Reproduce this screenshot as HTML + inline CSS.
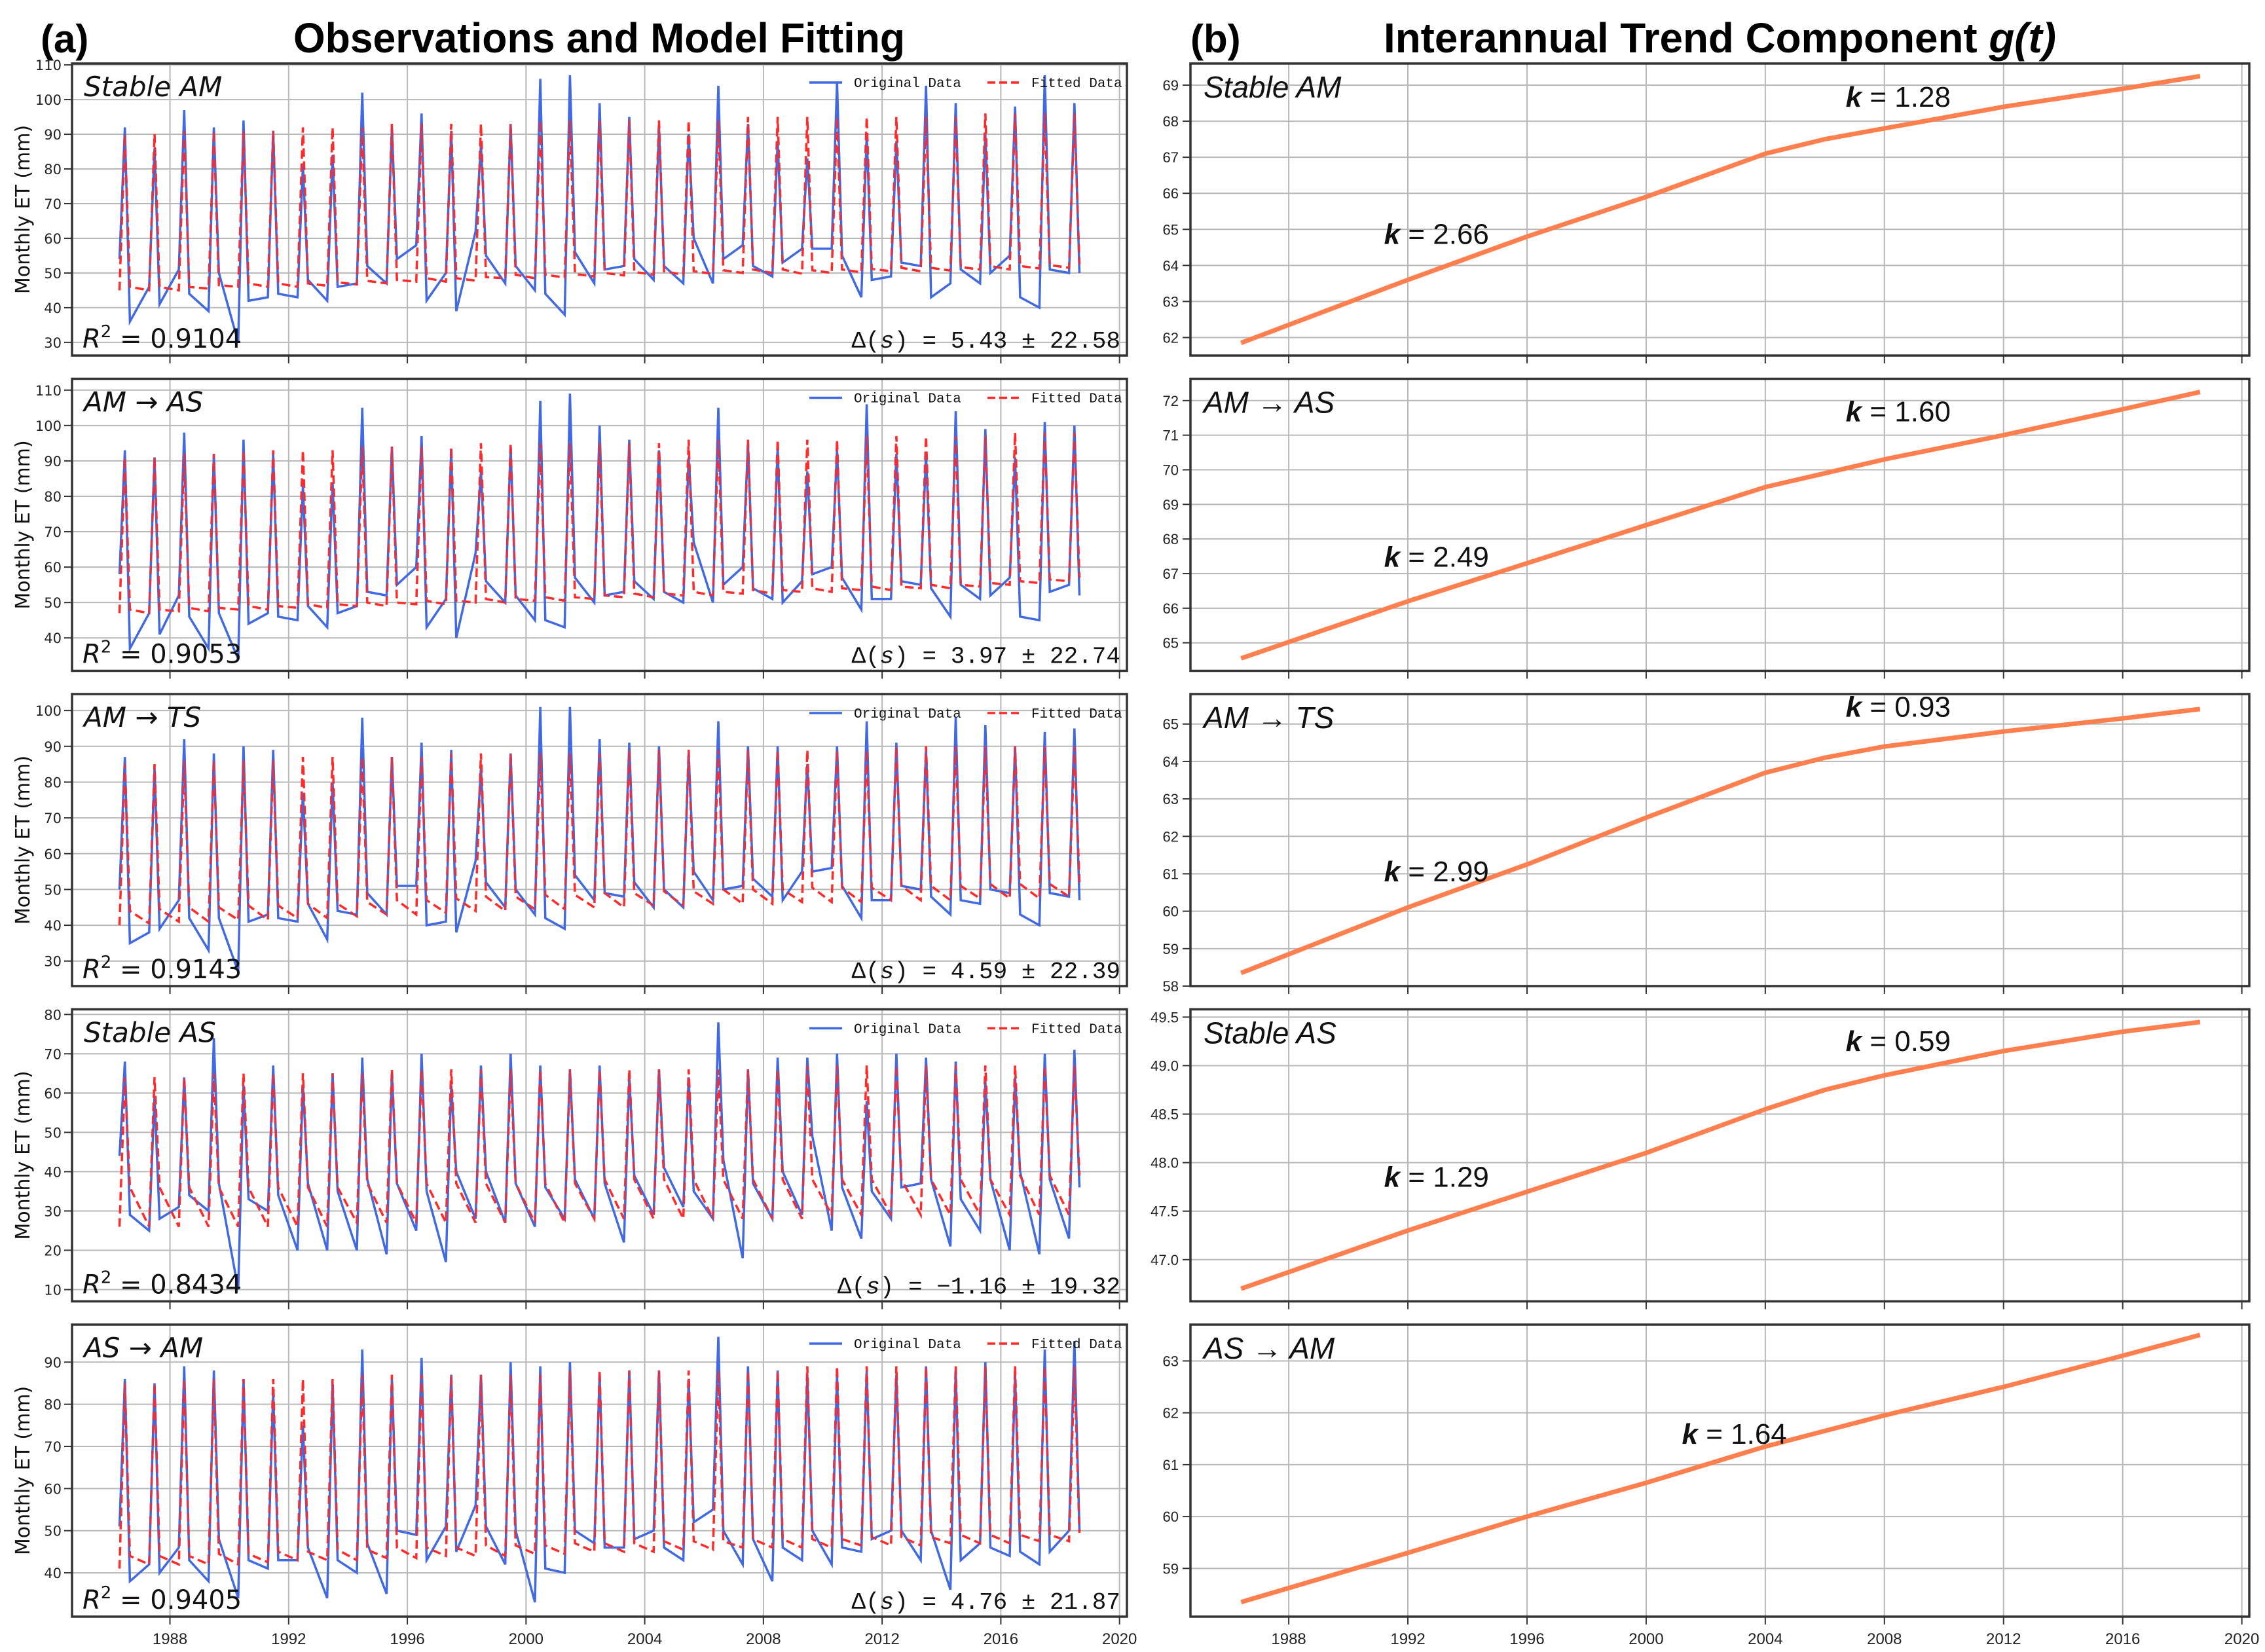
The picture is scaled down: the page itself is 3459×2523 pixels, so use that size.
<!DOCTYPE html>
<html><head><meta charset="utf-8"><style>
html,body{margin:0;padding:0;background:#fff;}
svg{display:block;}
</style></head><body>
<svg id="fig" xmlns="http://www.w3.org/2000/svg" width="3459" height="2523" viewBox="0 0 3459 2523">
<rect x="0" y="0" width="3459" height="2523" fill="#fff"/>
<text x="62" y="80" font-family="Liberation Sans, sans-serif" font-weight="bold" font-size="60">(a)</text>
<text x="448" y="80" textLength="934" lengthAdjust="spacingAndGlyphs" font-family="Liberation Sans, sans-serif" font-weight="bold" font-size="64">Observations and Model Fitting</text>
<text x="1818" y="80" font-family="Liberation Sans, sans-serif" font-weight="bold" font-size="60">(b)</text>
<text x="2113" y="80" textLength="1027" lengthAdjust="spacingAndGlyphs" font-family="Liberation Sans, sans-serif" font-weight="bold" font-size="64">Interannual Trend Component <tspan font-style="italic">g(t)</tspan></text>
<g id="plots"></g>
</svg>
<script>
// ---------- data ----------
const years = [1986,1987,1988,1989,1990,1991,1992,1993,1994,1995,1996,1997,1998,1999,2000,2001,2002,2003,2004,2005,2006,2007,2008,2009,2010,2011,2012,2013,2014,2015,2016,2017,2018];
const panelNames = ["Stable AM","AM \u2192 AS","AM \u2192 TS","Stable AS","AS \u2192 AM"];
const r2Labels = ["0.9104","0.9053","0.9143","0.8434","0.9405"];
const deltaLabels = ["5.43 \u00b1 22.58","3.97 \u00b1 22.74","4.59 \u00b1 22.39","\u22121.16 \u00b1 19.32","4.76 \u00b1 21.87"];

const p1BluePre  = [54,46,51,39,30,43,43,42,47,47,58,50,62,47,45,38,47,52,48,47,47,58,49,57,57,43,49,52,47,47,55,40,50];
const p1BluePeak = [92,86,97,92,94,91,81,84,102,92,96,91,87,93,106,107,99,95,92,90,104,93,88,83,105,90,88,104,99,90,98,107,99];
const p1BluePost = [36,41,44,50,42,44,48,46,52,54,42,39,55,52,44,56,51,54,52,60,54,52,53,57,55,48,53,43,51,50,43,51,50];
const p1RedPre   = [45,45,45,45.5,46,46,46,46.3,46.7,47,47.5,47.5,47.8,48.5,48.5,48.7,49,49.3,49.5,49.5,49.8,50,50,49.8,50,50.2,50.5,50.5,50.7,51,51,51.3,51.5];
const p1RedPeak  = [90,90,91,91,91,91,92,92,92,93,93,93,93,93,94,94,94,94,94,94,94,95,95,95,95,95,95,95,95,96,96,96,96];
const p1RedPost  = [46,46,46,46.5,47,47,47,47.3,47.7,48,48.5,48.5,48.8,49.5,49.5,49.7,50,50.3,50.5,50.5,50.8,51,51,50.8,51,51.2,51.5,51.5,51.7,52,52,52.3,52.5];

const p2BluePre  = [58,47,52,37,34,47,45,43,49,52,60,51,64,50,45,43,50,53,51,50,50,60,51,56,60,48,51,55,46,51,57,45,55];
const p2BluePeak = [93,91,98,92,96,92,83,84,105,94,97,93,87,94,107,109,100,96,93,91,105,95,94,87,93,106,92,92,104,99,91,101,100];
const p2BluePost = [37,41,46,47,44,46,49,47,53,55,43,40,56,52,45,57,52,56,53,67,55,54,50,58,57,51,56,54,55,52,46,53,52];
const p2RedPre   = [47,47,47.5,47.5,48,48,48.5,48.5,49,49,49.5,49.5,50,50,50.5,50.5,51,51.5,51.5,52,52,52.5,52.5,53,53,53.5,53.5,54,54,54.5,55,55.5,56];
const p2RedPeak  = [91,91,92,92,93,93,93,93,94,94,94,94,95,95,95,95,95,95,95,96,96,96,96,96,96,97,97,97,97,97,98,98,98];
const p2RedPost  = [48,48,48.5,48.5,49,49,49.5,49.5,50,50,50.5,50.5,51,51,51.5,51.5,52,52.5,52.5,53,53,53.5,53.5,54,54,54.5,54.5,55,55,55.5,56,56.5,57];

const p3BluePre  = [50,38,47,33,27,43,41,36,43,43,51,41,58,45,43,39,47,48,45,45,47,51,48,55,56,42,47,50,43,46,49,40,48];
const p3BluePeak = [87,84,92,88,90,89,77,80,98,87,91,89,84,88,101,101,92,91,90,88,97,90,90,85,90,97,91,89,98,96,90,94,95];
const p3BluePost = [35,39,42,42,41,42,46,44,49,51,40,38,52,50,42,54,49,52,50,55,50,53,47,55,51,47,51,48,47,50,43,49,47];
const p3RedPre   = [40,40.5,41,41,41.5,41.5,42,42,42.5,43,43,43.5,44,44,44.5,44.5,45,45,45.5,45.5,46,46,46,46.5,46.5,46.5,47,47,47,47.5,47.5,47.5,48];
const p3RedPeak  = [85,85,86,86,86,86,87,87,87,87,87,88,88,88,88,88,88,89,89,89,89,89,89,89,89,89,90,90,90,90,90,90,90];
const p3RedPost  = [44,44.5,45,45,45.5,45.5,46,46,46.5,47,47,47.5,48,48,48.5,48.5,49,49,49.5,49.5,50,50,50,50.5,50.5,50.5,51,51,51,51.5,51.5,51.5,52];

const p4BluePre  = [44,25,31,30,10,30,20,20,20,19,25,17,28,27,26,28,28,22,29,31,28,18,28,29,25,23,28,37,21,25,20,19,23];
const p4BluePeak = [68,59,64,74,62,67,62,65,69,65,70,62,67,70,67,66,67,64,66,64,78,66,69,69,70,58,70,69,68,63,64,70,71];
const p4BluePost = [29,28,34,37,33,34,37,35,38,37,35,40,40,37,36,38,37,39,41,35,43,37,40,49,36,35,36,38,33,38,40,38,36];
const p4RedPre   = [26,26,26,26,26,26,26,26,27,27,27,27,27,27,27,27,28,28,28,28,28,28,28,28,29,29,29,29,29,29,29,29,29];
const p4RedPeak  = [64,64,64,65,65,65,65,65,65,66,66,66,66,66,66,66,66,66,66,66,66,66,66,67,67,67,67,67,67,67,67,67,67];
const p4RedPost  = [36,36,36,36,36,36,36,36,37,37,37,37,37,37,37,37,38,38,38,38,38,38,38,38,38,38,38,38,38,38,39,39,39];

const p5BluePre  = [51,42,46,38,34,41,43,34,40,35,49,51,56,42,33,40,47,46,50,43,55,42,38,43,42,45,50,43,36,47,44,42,50];
const p5BluePeak = [86,85,89,88,86,83,75,85,93,86,91,87,87,90,89,90,87,88,88,86,96,89,88,87,87,88,87,89,88,90,87,93,95];
const p5BluePost = [38,40,43,48,43,43,46,43,47,50,43,45,51,50,41,50,46,48,46,52,50,48,46,50,46,48,50,50,43,46,45,45,50];
const p5RedPre   = [41,42,42,42,42,42.5,43,43,43,43.5,43.5,44,44,44,44.5,44.5,45,45,45,45.5,45.5,46,46,46,46,46.5,46.5,46.5,47,47,47,47.5,47.5];
const p5RedPeak  = [85,85,86,86,86,86,86,86,87,87,87,87,87,87,87,88,88,88,88,88,88,88,88,89,89,89,89,89,89,89,89,89,89];
const p5RedPost  = [44,44,44,44.5,44.5,45,45,45.5,45.5,46,46,46,46.5,46.5,46.5,47,47,47,47.5,47.5,47.5,48,48,48,48,48.5,48.5,48.5,49,49,49,49,49.5];

const bluePre  = [p1BluePre,p2BluePre,p3BluePre,p4BluePre,p5BluePre];
const bluePeak = [p1BluePeak,p2BluePeak,p3BluePeak,p4BluePeak,p5BluePeak];
const bluePost = [p1BluePost,p2BluePost,p3BluePost,p4BluePost,p5BluePost];
const redPre   = [p1RedPre,p2RedPre,p3RedPre,p4RedPre,p5RedPre];
const redPeak  = [p1RedPeak,p2RedPeak,p3RedPeak,p4RedPeak,p5RedPeak];
const redPost  = [p1RedPost,p2RedPost,p3RedPost,p4RedPost,p5RedPost];

const leftYMin = [26.2,30.7,23.0,7.0,29.6];
const leftYMax = [110.4,113.2,104.6,81.3,98.9];
const leftTicks = [[30,40,50,60,70,80,90,100,110],[40,50,60,70,80,90,100,110],[30,40,50,60,70,80,90,100],[10,20,30,40,50,60,70,80],[40,50,60,70,80,90]];

const trendYears = [1986.4,1992,1996,2000,2004,2006,2008,2012,2016,2018.6];
const trend1 = [61.85,63.6,64.8,65.9,67.1,67.5,67.8,68.4,68.9,69.25];
const trend2 = [64.55,66.2,67.3,68.4,69.5,69.9,70.3,71.0,71.75,72.25];
const trend3 = [58.35,60.1,61.25,62.5,63.7,64.1,64.4,64.8,65.15,65.4];
const trend4 = [46.7,47.3,47.7,48.1,48.55,48.75,48.9,49.15,49.35,49.45];
const trend5 = [58.35,59.3,60.0,60.65,61.35,61.65,61.95,62.5,63.1,63.5];
const trends = [trend1,trend2,trend3,trend4,trend5];
const rightYMin = [61.5,64.19,58.0,46.57,58.07];
const rightYMax = [69.6,72.63,65.8,49.58,63.7];
const rightTicks = [[62,63,64,65,66,67,68,69],[65,66,67,68,69,70,71,72],[58,59,60,61,62,63,64,65],[47.0,47.5,48.0,48.5,49.0,49.5],[59,60,61,62,63]];
const kLabels = [["2.66","1.28"],["2.49","1.60"],["2.99","0.93"],["1.29","0.59"],["1.64"]];
const kYears = [[1991.2,2006.7],[1991.2,2006.7],[1991.2,2006.7],[1991.2,2006.7],[2001.2]];
const kValues = [[64.6,68.4],[67.2,71.4],[60.8,65.2],[47.75,49.15],[61.4]];
const xTickYears = [1988,1992,1996,2000,2004,2008,2012,2016,2020];

// ---------- layout ----------
const NS = "http://www.w3.org/2000/svg";
const root = document.getElementById('plots');
const tops = [97,578.5,1060,1541.5,2023];
const PH = 446;
const L = {x0:110, x1:1721};
const R = {x0:1818, x1:3435};
function xs(year, side){ return side.x0 + (year-1984.7)*(side.x1-side.x0)/35.55; }
function ysc(v, top, mn, mx){ return top + PH - (v-mn)/(mx-mn)*PH; }
function mk(tag, attrs, parent){ const e=document.createElementNS(NS,tag); for(const k in attrs) e.setAttribute(k,attrs[k]); (parent||root).appendChild(e); return e; }

for(let p=0;p<5;p++){
  const top = tops[p];
  // ----- LEFT -----
  const gL = mk('g',{});
  
  
  const yL = v=>ysc(v,top,leftYMin[p],leftYMax[p]);
  xTickYears.forEach(yr=>{
    const x=xs(yr,L);
    const gl=mk('line',{x1:x,x2:x,y1:top,y2:top+PH,stroke:'#b8b8b8','stroke-width':2},gL);
    
    
    mk('line',{x1:x,x2:x,y1:top+PH,y2:top+PH+12,stroke:'#333','stroke-width':2},gL);
    if(p===4){
      const t=mk('text',{x:x,y:top+PH+42,'text-anchor':'middle','font-family':'Liberation Sans, sans-serif','font-size':24,fill:'#222'},gL);
      t.textContent=yr;
      
      
    }
  });
  leftTicks[p].forEach(v=>{
    const y=yL(v);
    const gl=mk('line',{x1:L.x0,x2:L.x1,y1:y,y2:y,stroke:'#b8b8b8','stroke-width':2},gL);
    
    
    mk('line',{x1:L.x0-12,x2:L.x0,y1:y,y2:y,stroke:'#333','stroke-width':2},gL);
    const t=mk('text',{x:L.x0-16,y:y+8,'text-anchor':'end','font-family':'DejaVu Sans, sans-serif','font-size':21,fill:'#222'},gL);
    t.textContent=v;
    
    
  });
  let rd='';
  years.forEach((yr,i)=>{
    rd += (i?'L':'M')+xs(yr+0.30,L).toFixed(1)+','+yL(redPre[p][i]).toFixed(1);
    rd += 'L'+xs(yr+0.48,L).toFixed(1)+','+yL(redPeak[p][i]).toFixed(1);
    rd += 'L'+xs(yr+0.65,L).toFixed(1)+','+yL(redPost[p][i]).toFixed(1);
  });
  const red=mk('path',{d:rd,fill:'none',stroke:'#ff2a2a','stroke-width':3.5,'stroke-dasharray':'13,7'},gL);
  
  
  let bd='';
  years.forEach((yr,i)=>{
    bd += (i?'L':'M')+xs(yr+0.30,L).toFixed(1)+','+yL(bluePre[p][i]).toFixed(1);
    bd += 'L'+xs(yr+0.48,L).toFixed(1)+','+yL(bluePeak[p][i]).toFixed(1);
    bd += 'L'+xs(yr+0.65,L).toFixed(1)+','+yL(bluePost[p][i]).toFixed(1);
  });
  const blue=mk('path',{d:bd,fill:'none',stroke:'#4169e1','stroke-width':3.5,'stroke-linejoin':'miter'},gL);
  
  
  const red2=mk('path',{d:rd,fill:'none',stroke:'#ff2a2a','stroke-width':3,'stroke-dasharray':'13,7','opacity':0.85},gL);
  
  
  const fr=mk('rect',{x:L.x0,y:top,width:L.x1-L.x0,height:PH,fill:'none',stroke:'#333','stroke-width':3.5},gL);
  
  
  const nm=mk('text',{x:L.x0+18,y:top+50,'font-family':'DejaVu Sans, sans-serif','font-style':'italic','font-size':42,fill:'#111'},gL);
  nm.textContent=panelNames[p];
  
  
  const r2=mk('text',{x:L.x0+16,y:top+PH-12,'font-family':'DejaVu Sans, sans-serif','font-size':40,fill:'#111'},gL);
  r2.innerHTML='<tspan font-style="italic">R</tspan><tspan dy="-16" font-size="26">2</tspan><tspan dy="16"> = '+r2Labels[p]+'</tspan>';
  
  
  const dl=mk('text',{x:L.x1-10,y:top+PH-12,'text-anchor':'end','font-family':'Liberation Mono, monospace','font-size':36,fill:'#111'},gL);
  dl.innerHTML='\u0394(<tspan font-style="italic">s</tspan>) = '+deltaLabels[p];
  
  
  const lg=mk('g',{},gL);
  
  
  mk('line',{x1:1236,x2:1286,y1:top+29,y2:top+29,stroke:'#4169e1','stroke-width':3.5},lg);
  const l1=mk('text',{x:1304,y:top+36,'font-family':'Liberation Mono, monospace','font-size':21,fill:'#111'},lg);
  l1.textContent='Original Data';
  
  
  mk('line',{x1:1508,x2:1556,y1:top+29,y2:top+29,stroke:'#ff2a2a','stroke-width':3.5,'stroke-dasharray':'12,6'},lg);
  const l2=mk('text',{x:1575,y:top+36,'font-family':'Liberation Mono, monospace','font-size':21,fill:'#111'},lg);
  l2.textContent='Fitted Data';
  
  
  const yl=mk('text',{x:0,y:0,'text-anchor':'middle','font-family':'DejaVu Sans, sans-serif','font-size':30,fill:'#111',transform:'translate(45,'+(top+PH/2)+') rotate(-90)'},gL);
  yl.textContent='Monthly ET (mm)';
  
  

  // ----- RIGHT -----
  const gR = mk('g',{});
  
  
  const yR = v=>ysc(v,top,rightYMin[p],rightYMax[p]);
  xTickYears.forEach(yr=>{
    const x=xs(yr,R);
    const gl=mk('line',{x1:x,x2:x,y1:top,y2:top+PH,stroke:'#b8b8b8','stroke-width':2},gR);
    
    
    mk('line',{x1:x,x2:x,y1:top+PH,y2:top+PH+12,stroke:'#333','stroke-width':2},gR);
    if(p===4){
      const t=mk('text',{x:x,y:top+PH+42,'text-anchor':'middle','font-family':'Liberation Sans, sans-serif','font-size':24,fill:'#222'},gR);
      t.textContent=yr;
      
      
    }
  });
  rightTicks[p].forEach(v=>{
    const y=yR(v);
    const gl=mk('line',{x1:R.x0,x2:R.x1,y1:y,y2:y,stroke:'#b8b8b8','stroke-width':2},gR);
    
    
    mk('line',{x1:R.x0-12,x2:R.x0,y1:y,y2:y,stroke:'#333','stroke-width':2},gR);
    const t=mk('text',{x:R.x0-18,y:y+8,'text-anchor':'end','font-family':'Liberation Sans, sans-serif','font-size':22,fill:'#222'},gR);
    t.textContent=(p===3)?v.toFixed(1):v;
    
    
  });
  let td='';
  trendYears.forEach((yr,i)=>{ td += (i?'L':'M')+xs(yr,R).toFixed(1)+','+yR(trends[p][i]).toFixed(1); });
  const tl=mk('path',{d:td,fill:'none',stroke:'#ff7f4f','stroke-width':7,'stroke-linejoin':'round'},gR);
  
  
  const fr2=mk('rect',{x:R.x0,y:top,width:R.x1-R.x0,height:PH,fill:'none',stroke:'#333','stroke-width':3.5},gR);
  
  
  const nm2=mk('text',{x:R.x0+20,y:top+52,'font-family':'Liberation Sans, sans-serif','font-style':'italic','font-size':46,fill:'#111'},gR);
  nm2.textContent=panelNames[p];
  
  
  kLabels[p].forEach((k,j)=>{
    const t=mk('text',{x:xs(kYears[p][j],R),y:yR(kValues[p][j]),'font-family':'Liberation Sans, sans-serif','font-size':44,fill:'#111'},gR);
    t.innerHTML='<tspan font-weight="bold" font-style="italic">k</tspan> = '+k;
    
    
  });
}
</script>
</body></html>
